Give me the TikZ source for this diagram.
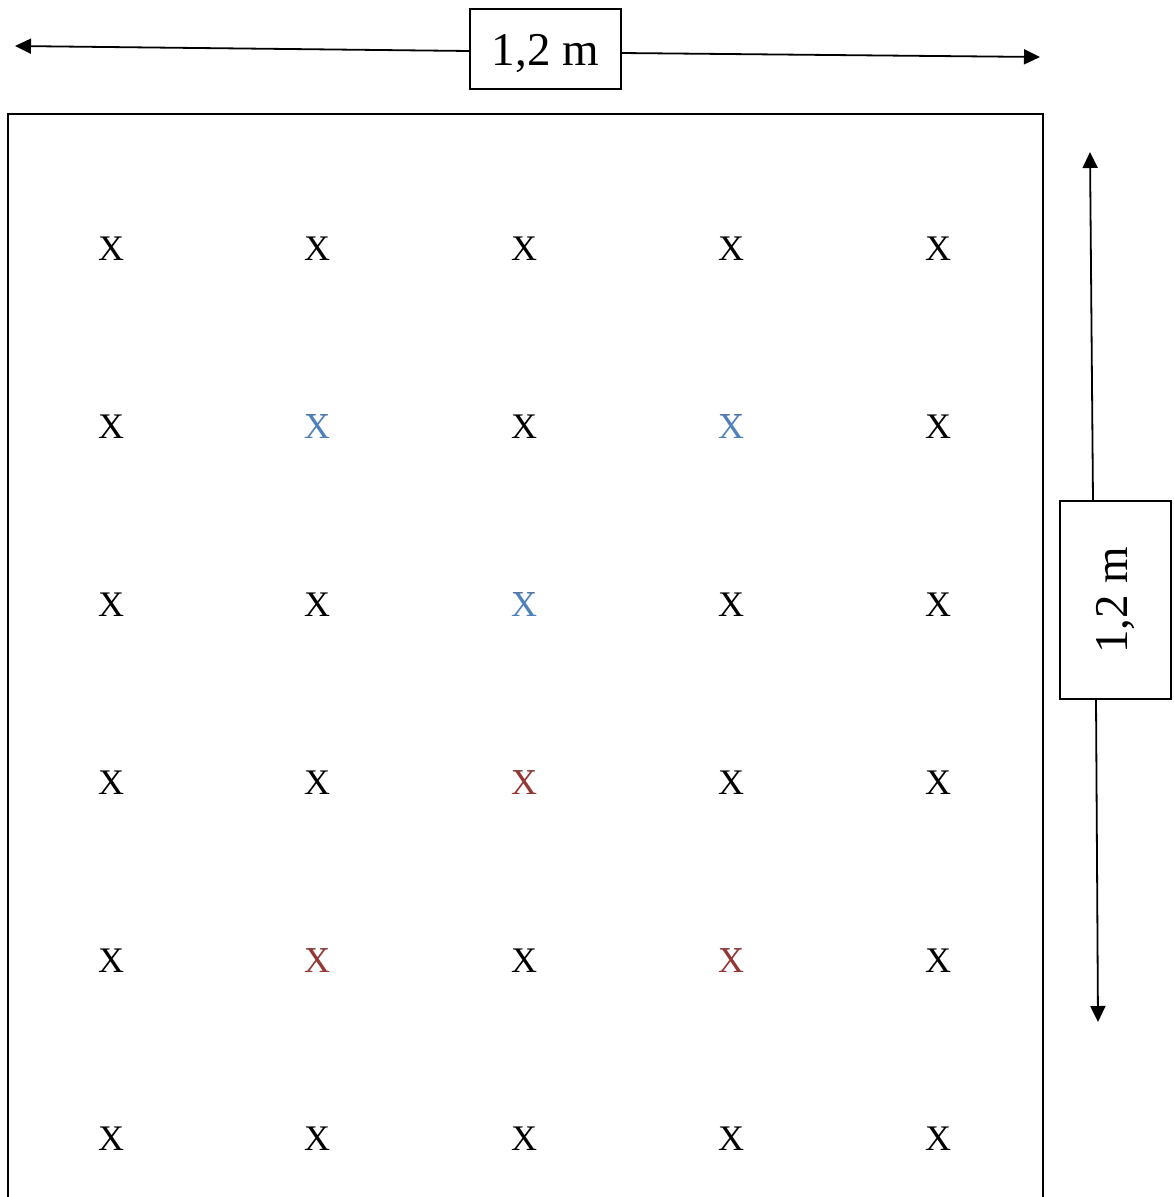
\documentclass[tikz,border=0pt]{standalone}
\usepackage{fontspec}
\setmainfont{Liberation Serif}
\usetikzlibrary{arrows.meta}
\definecolor{xblue}{HTML}{4F81BD}
\definecolor{xred}{HTML}{953735}
\tikzset{
  frame/.style={line width=2pt, black},
  dimbox/.style={draw, line width=1.6pt, inner sep=0pt, font=\fontsize{47}{50}\selectfont},
  dimarrow/.style={line width=1.8pt, -{Triangle[length=16pt,width=15pt]}},
  cross/.style={inner sep=0pt, font=\fontsize{36}{40}\selectfont}
}
\begin{document}
\begin{tikzpicture}[x=1pt,y=-1pt]
\useasboundingbox (0,0) rectangle (1174,1197);
% main frame (open at bottom)
\draw[frame] (8,1200) -- (8,114) -- (1043,114) -- (1043,1200);
% top dimension
\node[dimbox, minimum width=151pt, minimum height=80pt] (tbox) at (545.5,49) {\smash{\raisebox{-16pt}{1,2 m}}};
\coordinate (tl) at (15,46);
\coordinate (tr) at (1040,57);
\coordinate (tla) at (470,51);
\coordinate (tra) at (621,53);
\draw[dimarrow] (tla) -- (tl);
\draw[dimarrow] (tra) -- (tr);
% right dimension
\node[dimbox, rotate=90, minimum width=198pt, minimum height=111pt] (rbox) at (1115.5,600) {1,2 m};
\coordinate (rt) at (1090,152);
\coordinate (rb) at (1098,1022);
\coordinate (rta) at (1093,501);
\coordinate (rba) at (1096,699);
\draw[dimarrow] (rta) -- (rt);
\draw[dimarrow] (rba) -- (rb);
% grid of crosses
\foreach \r/\y in {1/249,2/427,3/605,4/783,5/961,6/1139}{
  \foreach \c/\x in {1/111,2/317,3/524,4/731,5/938}{
    \node[cross] (x\r\c) at (\x,\y) {X};
  }
}
% coloured crosses on top
\node[cross, fill=white, text=xblue] (b22) at (317,427) {X};
\node[cross, fill=white, text=xblue] (b24) at (731,427) {X};
\node[cross, fill=white, text=xblue] (b33) at (524,605) {X};
\node[cross, fill=white, text=xred] (r43) at (524,783) {X};
\node[cross, fill=white, text=xred] (r52) at (317,961) {X};
\node[cross, fill=white, text=xred] (r54) at (731,961) {X};
\end{tikzpicture}
\end{document}
